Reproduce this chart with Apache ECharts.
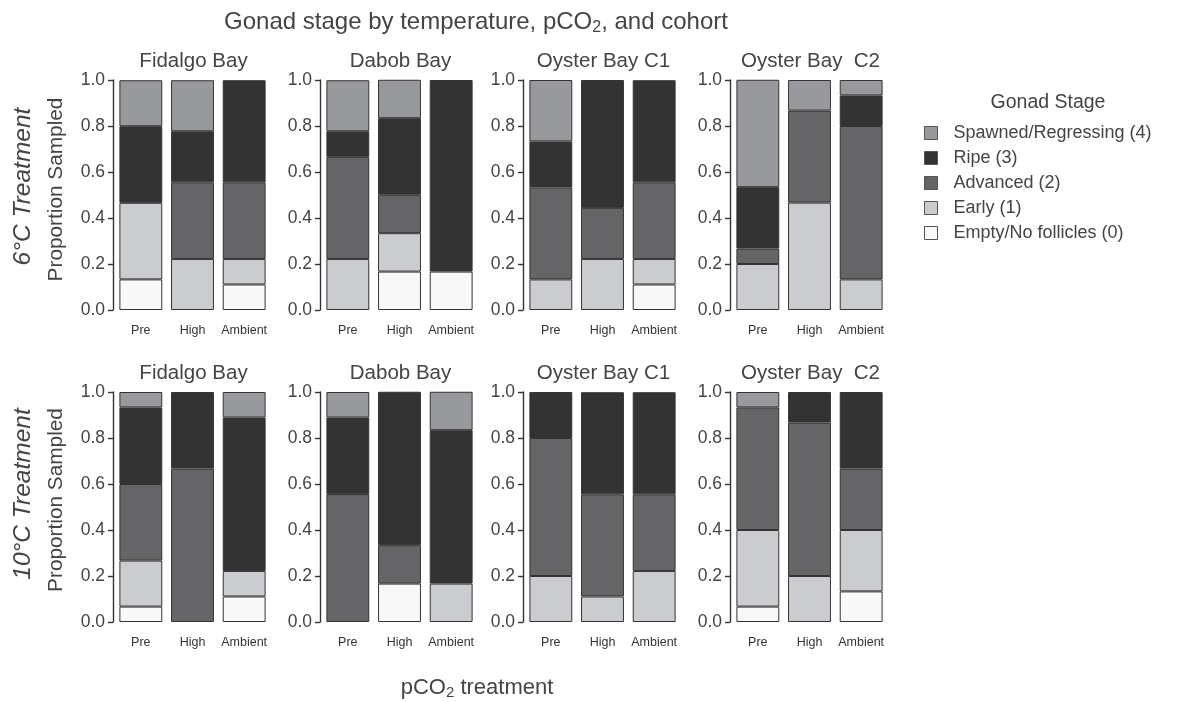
<!DOCTYPE html>
<html><head><meta charset="utf-8">
<script src="https://cdn.jsdelivr.net/npm/echarts@6/dist/echarts.min.js"></script>
<style>html,body{margin:0;padding:0;background:#fff}#c{width:1190px;height:702px}</style>
</head><body><div id="c"></div>
<script>
// ---- data ----
const sites = ['Fidalgo Bay', 'Dabob Bay', 'Oyster Bay C1', 'Oyster Bay  C2'];
const treatments = ['Pre', 'High', 'Ambient'];
const temps = ['6°C Treatment', '10°C Treatment'];
const stages = ['Empty/No follicles (0)', 'Early (1)', 'Advanced (2)', 'Ripe (3)', 'Spawned/Regressing (4)'];
const stageColors = ['#f8f8f8', '#cbcccf', '#656567', '#333333', '#98999d'];
const legendOrder = ['Spawned/Regressing (4)', 'Ripe (3)', 'Advanced (2)', 'Early (1)', 'Empty/No follicles (0)'];

// 6°C: values per site (Pre, High, Ambient), 4 sites in order
const t6_empty    = [0.133, 0, 0.111,   0, 0.167, 0.167,   0, 0, 0.111,       0, 0, 0];
const t6_early    = [0.333, 0.222, 0.111, 0.222, 0.167, 0,  0.133, 0.222, 0.111, 0.2, 0.467, 0.133];
const t6_advanced = [0, 0.333, 0.333,   0.444, 0.167, 0,   0.4, 0.222, 0.333,  0.067, 0.4, 0.667];
const t6_ripe     = [0.333, 0.222, 0.444, 0.111, 0.333, 0.833, 0.2, 0.556, 0.444, 0.267, 0, 0.133];
const t6_spawned  = [0.2, 0.222, 0,     0.222, 0.167, 0,   0.267, 0, 0,       0.467, 0.133, 0.067];

// 10°C
const t10_empty    = [0.067, 0, 0.111,  0, 0.167, 0,      0, 0, 0,           0.067, 0, 0.133];
const t10_early    = [0.2, 0, 0.111,    0, 0, 0.167,      0.2, 0.111, 0.222, 0.333, 0.2, 0.267];
const t10_advanced = [0.333, 0.667, 0,  0.556, 0.167, 0,  0.6, 0.444, 0.333, 0.533, 0.667, 0.267];
const t10_ripe     = [0.333, 0.333, 0.667, 0.333, 0.667, 0.667, 0.2, 0.444, 0.444, 0, 0.133, 0.333];
const t10_spawned  = [0.067, 0, 0.111,  0.111, 0, 0.167,  0, 0, 0,           0.067, 0, 0];

const tempData = [
  [t6_empty, t6_early, t6_advanced, t6_ripe, t6_spawned],
  [t10_empty, t10_early, t10_advanced, t10_ripe, t10_spawned]
];

// ---- layout ----
const FONT = 'Liberation Sans, Arial, Helvetica, sans-serif';
const TXT = '#444';
const gridLefts = [115, 322, 525, 732];
const gridW = 155;
const gridTops = [80, 392];
const gridH = 230;

const grids = [], xAxes = [], yAxes = [], series = [], titles = [];
let gi = 0;
for (let r = 0; r < 2; r++) {
  for (let s = 0; s < 4; s++) {
    grids.push({ left: gridLefts[s], top: gridTops[r], width: gridW, height: gridH });
    xAxes.push({
      type: 'category', gridIndex: gi, data: treatments,
      axisLine: { show: false }, axisTick: { show: false },
      axisLabel: { interval: 0, fontFamily: FONT, fontSize: 12.5, color: '#333', margin: 14 }
    });
    yAxes.push({
      type: 'value', gridIndex: gi, min: 0, max: 1, interval: 0.2, offset: 2,
      axisLine: { show: true, lineStyle: { color: '#333', width: 1.4 } },
      axisTick: { show: true, length: 5, lineStyle: { color: '#333', width: 1.4 } },
      splitLine: { show: false },
      axisLabel: { fontFamily: FONT, fontSize: 17.5, color: TXT, margin: 8, formatter: v => v.toFixed(1) }
    });
    for (let k = 0; k < 5; k++) {
      const arr = tempData[r][k];
      series.push({
        type: 'bar', name: stages[k], xAxisIndex: gi, yAxisIndex: gi, stack: 'g' + gi,
        barCategoryGap: '17%',
        data: arr.slice(s * 3, s * 3 + 3).map(v => (v === 0 ? '-' : v)),
        itemStyle: { color: stageColors[k], borderColor: '#333', borderWidth: 1 },
        emphasis: { disabled: true }, animation: false
      });
    }
    titles.push({
      text: sites[s], left: gridLefts[s] + gridW / 2 - 4, top: gridTops[r] - 34, textAlign: 'center',
      textStyle: { fontFamily: FONT, fontSize: 20.5, fontWeight: 'normal', color: TXT }
    });
    gi++;
  }
}

titles.push({
  text: 'Gonad stage by temperature, pCO{sub|2}, and cohort', left: 471, top: 4, textAlign: 'center',
  textStyle: { fontFamily: FONT, fontSize: 24, fontWeight: 'normal', color: TXT,
    rich: { sub: { fontFamily: FONT, fontSize: 16, color: TXT, padding: [11, 0, 0, 0] } } }
});
titles.push({
  text: 'pCO{sub|2} treatment', left: 472, top: 670, textAlign: 'center',
  textStyle: { fontFamily: FONT, fontSize: 22, fontWeight: 'normal', color: TXT,
    rich: { sub: { fontFamily: FONT, fontSize: 15, color: TXT, padding: [10, 0, 0, 0] } } }
});
titles.push({
  text: 'Gonad Stage', left: 1043, top: 88, textAlign: 'center',
  textStyle: { fontFamily: FONT, fontSize: 19.5, fontWeight: 'normal', color: TXT }
});

const graphics = [];
const tempCenters = [186.5, 494];
const propCenters = [189.5, 500];
for (let r = 0; r < 2; r++) {
  graphics.push({
    type: 'text', x: 23, y: tempCenters[r], rotation: Math.PI / 2,
    style: { text: temps[r], font: 'italic 24.5px ' + FONT, fill: TXT, textAlign: 'center', textVerticalAlign: 'middle' }
  });
  graphics.push({
    type: 'text', x: 56, y: propCenters[r], rotation: Math.PI / 2,
    style: { text: 'Proportion Sampled', font: '20.8px ' + FONT, fill: TXT, textAlign: 'center', textVerticalAlign: 'middle' }
  });
}

const option = {
  animation: false,
  backgroundColor: '#fff',
  title: titles,
  grid: grids,
  xAxis: xAxes,
  yAxis: yAxes,
  series: series,
  graphic: graphics,
  legend: {
    data: legendOrder, orient: 'vertical', left: 919, top: 119,
    icon: 'rect', itemWidth: 13, itemHeight: 13, itemGap: 7,
    itemStyle: { borderColor: '#555', borderWidth: 1 },
    textStyle: { fontFamily: FONT, fontSize: 18, color: TXT, padding: [0, 0, 0, 11] },
    selectedMode: false
  }
};
const chart = echarts.init(document.getElementById('c'), null, { renderer: 'canvas' });
chart.setOption(option);
</script></body></html>
